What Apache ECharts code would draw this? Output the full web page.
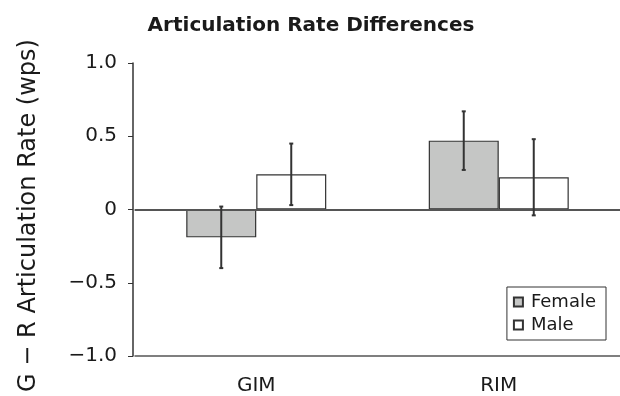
<!DOCTYPE html>
<html><head><meta charset="utf-8">
<script src="https://cdn.jsdelivr.net/npm/echarts@6/dist/echarts.min.js"></script>
<style>html,body{margin:0;padding:0;background:#fff}#c{width:620px;height:396px}</style>
</head><body><div id="c"></div>
<script>
var categories = ['GIM', 'RIM'];
var femaleMeans = [-0.19, 0.47];
var femaleErr = [0.21, 0.20];
var maleMeans = [0.24, 0.22];
var maleErr = [0.21, 0.26];
var yTickLabels = {'1': '1.0', '0.5': '0.5', '0': '0', '-0.5': '\u22120.5', '-1': '\u22121.0'};

var FONT = 'DejaVu Sans';
var BAR_W = 70;
var INK = '#333';

function errData(means, errs) {
  return means.map(function (m, i) { return [i, m, errs[i]]; });
}
function errRender(offset) {
  return function (params, api) {
    var i = api.value(0), m = api.value(1), e = api.value(2);
    var top = api.coord([i, m + e]);
    var bot = api.coord([i, m - e]);
    var x = top[0] + offset;
    var cap = 2;
    var st = {stroke: INK, lineWidth: 2};
    return {type: 'group', children: [
      {type: 'line', shape: {x1: x, y1: top[1], x2: x, y2: bot[1]}, style: st},
      {type: 'line', shape: {x1: x - cap, y1: top[1], x2: x + cap, y2: top[1]}, style: st},
      {type: 'line', shape: {x1: x - cap, y1: bot[1], x2: x + cap, y2: bot[1]}, style: st}
    ]};
  };
}

var chart = echarts.init(document.getElementById('c'), null, {renderer: 'canvas'});
chart.setOption({
  animation: false,
  textStyle: {fontFamily: FONT},
  title: {
    text: 'Articulation Rate Differences', left: 306, textAlign: 'center', top: 11,
    textStyle: {fontFamily: FONT, fontWeight: 'bold', fontSize: 20, color: '#1a1a1a'}
  },
  legend: {
    data: ['Female', 'Male'], orient: 'vertical', right: 14, top: 287,
    itemWidth: 9, itemHeight: 9, itemGap: 5, icon: 'rect',
    borderColor: INK, borderWidth: 1, borderRadius: 0, padding: [6, 10, 6, 6],
    textStyle: {fontFamily: FONT, fontSize: 18, color: '#1a1a1a', padding: [0, 0, 0, 3]}
  },
  grid: {left: 135, right: -1, top: 63, bottom: 40, containLabel: false},
  xAxis: [{
    type: 'category', data: categories, position: 'bottom',
    axisLine: {onZero: false, lineStyle: {color: '#555', width: 1.5}},
    axisTick: {show: false},
    axisLabel: {fontFamily: FONT, fontSize: 20, color: '#1a1a1a', margin: 20}
  }, {
    type: 'category', data: categories, position: 'top',
    axisLine: {show: true, lineStyle: {color: '#555', width: 1.5}},
    axisTick: {show: false}, axisLabel: {show: false}
  }],
  yAxis: {
    type: 'value', min: -1, max: 1, interval: 0.5, offset: 2,
    name: 'G \u2212 R Articulation Rate (wps)', nameLocation: 'middle', nameGap: 92,
    nameTextStyle: {fontFamily: FONT, fontSize: 24, color: '#1a1a1a', padding: [0, 12, 0, 0]},
    axisLine: {show: true, lineStyle: {color: INK, width: 1.5}},
    axisTick: {show: true, length: 5, lineStyle: {color: INK, width: 1}},
    splitLine: {show: false},
    axisLabel: {
      fontFamily: FONT, fontSize: 20, color: '#1a1a1a', margin: 16,
      formatter: function (v) { return yTickLabels[String(v)] !== undefined ? yTickLabels[String(v)] : v; }
    }
  },
  series: [{
    name: 'Female', type: 'bar', data: femaleMeans, barWidth: BAR_W, barGap: '0%',
    itemStyle: {color: '#c5c6c5', borderColor: INK, borderWidth: 1.2},
    markLine: {
      silent: true, symbol: 'none', label: {show: false},
      lineStyle: {color: '#555', width: 2, type: 'solid'},
      data: [{yAxis: 0}]
    }
  }, {
    name: 'Male', type: 'bar', data: maleMeans, barWidth: BAR_W, barGap: '0%',
    itemStyle: {color: '#ffffff', borderColor: INK, borderWidth: 1.2}
  }, {
    name: 'FemaleErr', type: 'custom', data: errData(femaleMeans, femaleErr),
    renderItem: errRender(-BAR_W / 2), z: 10, silent: true,
    encode: {x: 0, y: 1}
  }, {
    name: 'MaleErr', type: 'custom', data: errData(maleMeans, maleErr),
    renderItem: errRender(BAR_W / 2), z: 10, silent: true,
    encode: {x: 0, y: 1}
  }]
});
</script></body></html>
